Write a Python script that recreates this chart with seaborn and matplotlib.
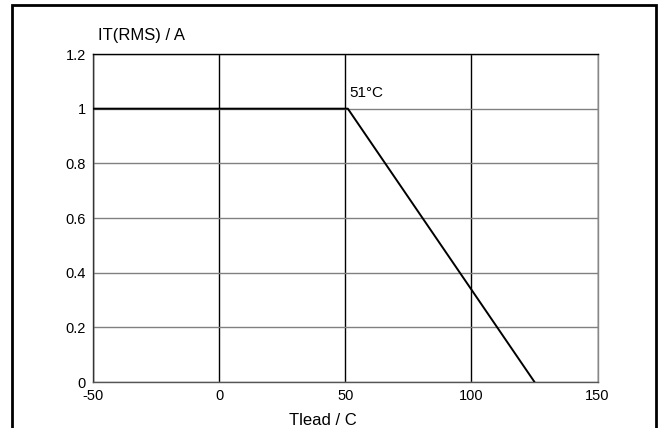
import pandas as pd
import matplotlib.pyplot as plt
import seaborn as sns
from matplotlib.patches import Rectangle

# derating curve: lead temperature vs RMS on-state current
tlead = [-50, 51, 125]
it_rms = [1.0, 1.0, 0.0]
x_ticks = [-50, 0, 50, 100, 150]
y_ticks = [0, 0.2, 0.4, 0.6, 0.8, 1.0, 1.2]
y_labels = ['0', '0.2', '0.4', '0.6', '0.8', '1', '1.2']

df = pd.DataFrame({'tlead': tlead, 'it': it_rms})

sns.set_theme(style="white")
plt.rcParams['font.family'] = ['Liberation Sans', 'DejaVu Sans']
plt.rcParams['axes.unicode_minus'] = False

fig = plt.figure(figsize=(6.63, 4.28), dpi=100)
ax = fig.add_axes([93/663, 1 - 382/428, (597.6 - 93)/663, (382 - 54)/428])

sns.lineplot(data=df, x='tlead', y='it', color='black', linewidth=1.4, ax=ax, zorder=5)

ax.set_xlim(-50, 150)
ax.set_ylim(0, 1.2)
ax.set_xticks(x_ticks)
ax.set_yticks(y_ticks)
ax.set_yticklabels(y_labels)
ax.grid(True, axis='x', color='black', linewidth=1.0)
ax.grid(True, axis='y', color='#808080', linewidth=1.0)
ax.tick_params(axis='both', length=0, labelsize=10.5, colors='black')
ax.tick_params(axis='x', pad=5)
ax.tick_params(axis='y', pad=5)
ax.get_yticklabels()[0].set_y(0.012)
ax.spines['top'].set_color('black')
ax.spines['right'].set_color('#888888')
ax.spines['left'].set_color('#333333')
ax.spines['bottom'].set_color('#555555')
for s in ax.spines.values():
    s.set_linewidth(1.0)

ax.set_xlabel('')
ax.set_ylabel('')
fig.text(323/663, 1 - 425/428, 'Tlead / C', fontsize=12, ha='center',
         va='baseline', color='black')
fig.text(98/663, 1 - 40/428, 'IT(RMS) / A', fontsize=12, ha='left',
         va='baseline', color='black')
ax.annotate('51°C', xy=(51, 1.0), xytext=(1, 6), textcoords='offset points',
            fontsize=11, color='black', ha='left', va='bottom')

# outer frame around the figure
fig.patches.append(Rectangle((12/663, -0.05), (656 - 12)/663, 1.05 - 5/428,
                             transform=fig.transFigure, fill=False,
                             edgecolor='black', linewidth=2))

fig.savefig('out.png', dpi=100)
